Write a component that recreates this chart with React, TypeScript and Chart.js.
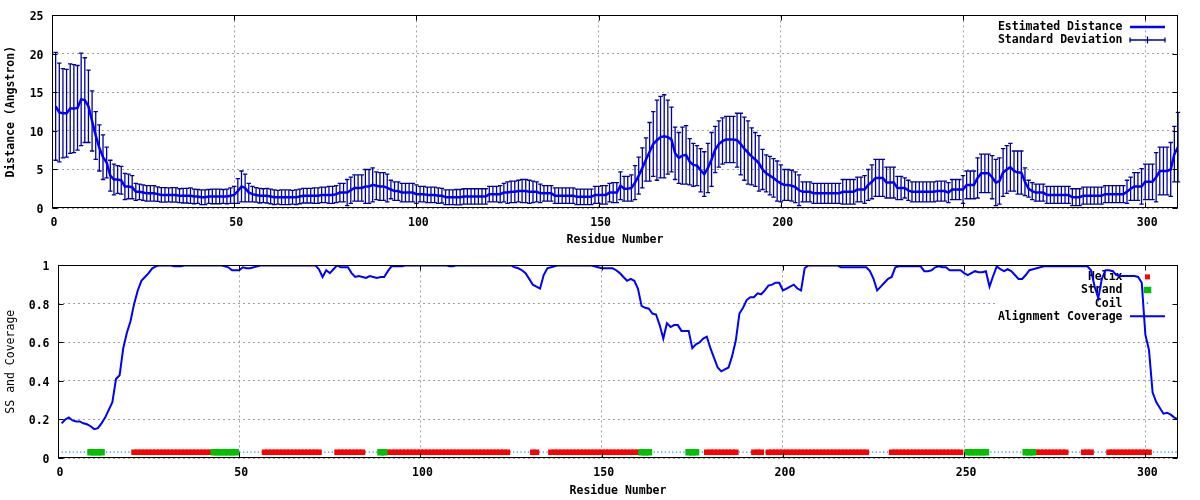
import { useEffect, useRef } from 'react';
import { Chart, registerables } from 'chart.js';

Chart.register(...registerables);

// ---------------- DATA ----------------
const residues: number[] = Array.from({ length: 309 }, (_, i) => i + 1);

const distance: number[] = [
  13.2, 12.4, 12.3, 12.3, 12.9, 12.9, 13.0, 14.1, 14.0, 13.2,
  11.3, 9.4, 7.8, 6.6, 5.9, 4.2, 3.7, 3.7, 3.6, 2.8,
  2.8, 2.7, 2.1, 2.1, 2.0, 1.9, 1.9, 1.9, 1.8, 1.7,
  1.7, 1.7, 1.7, 1.7, 1.6, 1.6, 1.6, 1.6, 1.5, 1.5,
  1.4, 1.4, 1.5, 1.5, 1.5, 1.5, 1.5, 1.5, 1.6, 1.7,
  2.2, 2.8, 2.6, 2.0, 1.8, 1.7, 1.6, 1.6, 1.6, 1.5,
  1.4, 1.4, 1.4, 1.4, 1.4, 1.4, 1.4, 1.5, 1.6, 1.6,
  1.6, 1.6, 1.6, 1.7, 1.7, 1.7, 1.7, 1.8, 2.0, 2.0,
  2.0, 2.3, 2.6, 2.6, 2.6, 2.8, 2.8, 3.0, 2.9, 2.8,
  2.8, 2.6, 2.4, 2.2, 2.2, 2.0, 2.0, 2.0, 2.0, 1.8,
  1.8, 1.8, 1.7, 1.7, 1.7, 1.6, 1.6, 1.4, 1.4, 1.4,
  1.4, 1.4, 1.5, 1.5, 1.5, 1.5, 1.5, 1.5, 1.5, 1.8,
  1.8, 1.8, 1.8, 2.0, 2.0, 2.1, 2.1, 2.2, 2.2, 2.2,
  2.1, 2.1, 2.1, 1.9, 1.9, 1.9, 1.9, 1.6, 1.6, 1.6,
  1.6, 1.6, 1.6, 1.45, 1.45, 1.45, 1.45, 1.45, 1.7, 1.7,
  1.7, 1.7, 2.0, 2.0, 2.0, 2.9, 2.5, 2.5, 2.6, 3.3,
  4.2, 5.2, 6.3, 7.3, 8.3, 8.8, 9.2, 9.3, 9.2, 8.9,
  7.1, 6.5, 6.8, 6.9, 6.0, 5.6, 5.5, 4.9, 4.4, 5.2,
  6.3, 7.6, 8.3, 8.7, 8.9, 8.9, 8.9, 8.8, 8.3, 7.7,
  7.2, 6.7, 6.3, 5.8, 5.0, 4.5, 4.2, 3.9, 3.5, 3.2,
  3.0, 3.0, 2.9, 2.7, 2.3, 2.1, 2.1, 2.1, 1.9, 1.9,
  1.9, 1.9, 1.9, 1.9, 1.9, 1.9, 2.1, 2.1, 2.1, 2.1,
  2.4, 2.4, 2.4, 3.0, 3.4, 3.9, 3.9, 3.9, 3.3, 3.3,
  3.3, 2.6, 2.6, 2.6, 2.3, 2.1, 2.1, 2.1, 2.1, 2.1,
  2.1, 2.1, 2.2, 2.2, 2.2, 2.0, 2.4, 2.4, 2.4, 2.4,
  3.0, 3.0, 3.0, 3.9, 4.5, 4.5, 4.5, 4.0, 3.3, 3.5,
  4.6, 5.0, 5.3, 4.8, 4.6, 4.6, 3.4, 2.5, 2.2, 2.0,
  2.0, 2.0, 1.7, 1.7, 1.7, 1.7, 1.7, 1.7, 1.7, 1.4,
  1.4, 1.4, 1.6, 1.6, 1.6, 1.6, 1.6, 1.6, 1.8, 1.8,
  1.8, 1.8, 1.8, 1.8, 2.1, 2.5, 2.8, 2.8, 2.8, 3.4,
  3.4, 3.4, 4.0, 4.8, 4.8, 4.8, 5.0, 7.0, 7.9,
];

const stdDev: number[] = [
  7.0, 6.4, 5.8, 5.7, 5.8, 5.7, 5.5, 6.0, 5.5, 4.7,
  3.9, 3.1, 3.0, 2.9, 2.0, 2.0, 2.0, 1.8, 1.8, 1.7,
  1.6, 1.5, 1.1, 1.0, 1.0, 1.0, 1.0, 1.0, 0.95, 0.95,
  0.95, 0.9, 0.95, 0.95, 0.9, 0.95, 0.95, 1.0, 0.95, 0.9,
  0.95, 0.95, 0.9, 0.95, 0.95, 0.95, 0.9, 0.95, 1.0, 1.1,
  1.6, 2.0, 1.8, 1.2, 1.0, 0.95, 0.95, 0.9, 0.95, 0.95,
  0.95, 0.9, 0.95, 0.95, 0.95, 0.9, 0.95, 0.95, 0.95, 0.95,
  0.95, 1.0, 1.0, 1.0, 1.0, 1.1, 1.1, 1.1, 1.2, 1.2,
  1.7, 1.7, 1.7, 1.7, 1.7, 2.2, 2.2, 2.2, 1.8, 1.8,
  1.8, 1.8, 1.2, 1.2, 1.2, 1.2, 1.2, 1.2, 1.2, 1.2,
  1.0, 1.0, 1.0, 1.0, 1.0, 1.0, 0.95, 0.95, 0.95, 0.95,
  1.0, 1.0, 1.0, 1.0, 1.0, 1.0, 1.0, 1.0, 1.0, 1.0,
  1.0, 1.0, 1.1, 1.2, 1.4, 1.4, 1.4, 1.4, 1.5, 1.5,
  1.5, 1.4, 1.3, 1.2, 1.0, 1.0, 1.0, 1.0, 1.0, 1.0,
  1.0, 1.0, 1.0, 1.0, 1.0, 1.0, 1.0, 1.0, 1.1, 1.1,
  1.2, 1.2, 1.2, 1.3, 1.3, 1.8, 1.6, 1.6, 1.7, 2.2,
  2.4, 2.6, 2.8, 3.8, 4.2, 5.2, 5.3, 5.4, 4.8, 4.2,
  3.4, 3.3, 3.7, 3.8, 3.0, 2.8, 2.6, 2.8, 2.9, 3.2,
  3.5, 3.0, 3.0, 3.0, 3.0, 3.0, 3.0, 3.5, 4.0, 4.1,
  4.1, 3.7, 3.5, 3.6, 2.6, 2.4, 2.5, 2.5, 2.6, 2.4,
  2.0, 2.0, 2.0, 2.0, 2.0, 1.3, 1.3, 1.3, 1.3, 1.3,
  1.3, 1.3, 1.3, 1.3, 1.3, 1.3, 1.6, 1.6, 1.6, 1.6,
  1.6, 1.6, 1.8, 2.0, 2.2, 2.4, 2.4, 2.4, 2.0, 2.0,
  2.0, 1.5, 1.5, 1.3, 1.3, 1.3, 1.3, 1.3, 1.3, 1.3,
  1.3, 1.3, 1.3, 1.3, 1.3, 1.3, 1.3, 1.3, 1.3, 1.8,
  1.8, 1.8, 1.8, 2.6, 2.5, 2.5, 2.5, 2.8, 3.0, 3.0,
  3.1, 3.1, 3.1, 2.6, 2.8, 2.8, 1.8, 1.1, 1.1, 1.1,
  1.1, 1.1, 1.1, 1.1, 1.1, 1.1, 1.1, 1.1, 1.1, 1.1,
  1.1, 1.1, 1.1, 1.1, 1.1, 1.1, 1.1, 1.1, 1.1, 1.1,
  1.1, 1.1, 1.1, 1.1, 1.5, 1.5, 1.8, 1.8, 2.3, 2.3,
  2.3, 2.3, 3.2, 3.1, 3.1, 3.1, 3.5, 3.6, 4.5,
];

const coverage: number[] = [
  0.18, 0.2, 0.21, 0.195, 0.19, 0.19, 0.18, 0.175, 0.165, 0.15,
  0.155, 0.18, 0.21, 0.25, 0.29, 0.41, 0.43, 0.57, 0.65, 0.71,
  0.8, 0.87, 0.92, 0.94, 0.96, 0.985, 0.995, 1, 1, 1,
  1, 0.995, 0.995, 0.995, 1, 1, 1, 1, 1, 1,
  1, 1, 1, 1, 1, 0.995, 0.99, 0.975, 0.975, 0.975,
  0.99, 0.985, 0.985, 0.99, 0.995, 1, 1, 1, 1, 1,
  1, 1, 1, 1, 1, 1, 1, 1, 1, 1,
  1, 0.98, 0.94, 0.975, 0.96, 0.98, 1, 0.99, 0.99, 0.99,
  0.96, 0.94, 0.945, 0.94, 0.935, 0.945, 0.94, 0.935, 0.94, 0.94,
  0.97, 0.995, 0.995, 0.995, 0.995, 1, 1, 1, 1, 1,
  1, 1, 1, 1, 1, 1, 1, 0.995, 0.995, 1,
  1, 1, 1, 1, 1, 1, 1, 1, 1, 1,
  1, 1, 1, 1, 1, 0.99, 0.985, 0.975, 0.96, 0.93,
  0.9, 0.89, 0.88, 0.95, 0.985, 0.99, 0.995, 1, 1, 1,
  1, 1, 1, 1, 1, 1, 1, 0.995, 0.99, 0.985,
  0.985, 0.985, 0.985, 0.975, 0.96, 0.94, 0.92, 0.93, 0.92, 0.88,
  0.79, 0.78, 0.775, 0.75, 0.745, 0.69, 0.62, 0.7, 0.68, 0.69,
  0.69, 0.66, 0.66, 0.66, 0.57, 0.59, 0.6, 0.62, 0.63, 0.57,
  0.52, 0.47, 0.45, 0.46, 0.47, 0.53, 0.61, 0.75, 0.78, 0.82,
  0.835, 0.835, 0.855, 0.85, 0.87, 0.895, 0.9, 0.91, 0.91, 0.87,
  0.88, 0.89, 0.9, 0.88, 0.87, 0.985, 1, 1, 1, 1,
  1, 1, 1, 1, 1, 0.99, 0.99, 0.99, 0.99, 0.99,
  0.99, 0.99, 0.99, 0.97, 0.93, 0.87, 0.89, 0.91, 0.93, 0.94,
  0.99, 0.995, 0.995, 0.995, 0.995, 0.995, 0.995, 0.995, 0.97, 0.97,
  0.975, 0.99, 0.995, 0.99, 0.99, 0.975, 0.975, 0.975, 0.975, 0.96,
  0.95, 0.96, 0.97, 0.965, 0.965, 0.97, 0.89, 0.945, 0.995, 0.98,
  0.97, 0.98, 0.97, 0.95, 0.93, 0.93, 0.95, 0.975, 0.98, 0.985,
  0.99, 0.995, 0.995, 0.995, 0.995, 0.995, 0.995, 0.995, 0.995, 0.995,
  0.995, 0.995, 0.995, 0.995, 0.975, 0.89, 0.83, 0.93, 0.975, 0.975,
  0.97, 0.95, 0.945, 0.945, 0.945, 0.945, 0.945, 0.94, 0.91, 0.64,
  0.56, 0.34, 0.29, 0.26, 0.23, 0.235, 0.225, 0.21, 0.2,
];

// secondary structure segments [first residue, last residue]
const helixSegments: [number, number][] = [
  [21, 42], [57, 72], [77, 84], [91, 124], [131, 132], [136, 160], [179, 187],
  [192, 194], [196, 223], [230, 249], [270, 278], [283, 285], [290, 301],
];
const strandSegments: [number, number][] = [
  [9, 12], [43, 49], [89, 90], [161, 163], [174, 176], [251, 256], [267, 269],
];
const ssLevel = 0.03;

const residueTicks: number[] = [0, 50, 100, 150, 200, 250, 300];
const distanceTicks: number[] = [0, 5, 10, 15, 20, 25];
const coverageTicks: number[] = [0, 0.2, 0.4, 0.6, 0.8, 1];
const coverageTickLabels: string[] = ['0', '0.2', '0.4', '0.6', '0.8', '1'];

// ---------------- STYLE ----------------
const MONO = '"DejaVu Sans Mono", "Liberation Mono", monospace';
const FONT_SIZE = 11.5;
const boldFont = { family: MONO, size: FONT_SIZE, weight: 'bold' as const };
const plainFont = { family: MONO, size: FONT_SIZE, weight: 'normal' as const };
const GRID = '#a0a0a0';
const BLUE = '#0000ff';
const ERR = '#00009c';
const RED = '#ff0000';
const GREEN = '#00c000';
const COIL = '#2090ff';

const inSegments = (r: number, segs: [number, number][]) => segs.some(([a, b]) => r >= a && r <= b);

function xScale(titlePadBottom: number) {
  return {
    type: 'linear' as const,
    min: 0,
    max: 309,
    afterBuildTicks: (s: any) => { s.ticks = residueTicks.map((v) => ({ value: v })); },
    afterFit: (s: any) => { s.height = 42; },
    grid: { color: GRID, lineWidth: 1, drawTicks: false },
    border: { display: false, dash: [2, 3] },
    ticks: { font: boldFont, color: '#000', padding: 8, labelOffset: 2, maxRotation: 0, autoSkip: false },
    title: { display: true, text: 'Residue Number', font: boldFont, color: '#000', padding: { top: 0, bottom: titlePadBottom } },
  };
}

function yScale(min: number, max: number, ticks: number[], labels: string[], width: number, title: string, titleFont: any) {
  return {
    type: 'linear' as const,
    min,
    max,
    afterBuildTicks: (s: any) => { s.ticks = ticks.map((v) => ({ value: v })); },
    afterFit: (s: any) => { s.width = width; },
    grid: { color: GRID, lineWidth: 1, drawTicks: false },
    border: { display: false, dash: [2, 3] },
    ticks: {
      font: boldFont,
      color: '#000',
      padding: 8.5,
      labelOffset: 2,
      autoSkip: false,
      callback: (_v: any, i: number) => labels[i],
    },
    title: { display: true, text: title, font: titleFont, color: '#000', padding: { top: 4, bottom: 0 } },
  };
}

const framePlugin = {
  id: 'gnuplotFrame',
  afterDraw(chart: any) {
    const { ctx, chartArea: a, scales } = chart;
    const l = Math.round(a.left) + 0.5;
    const r = Math.round(a.right) - 0.5;
    const t = Math.round(a.top) + 0.5;
    const b = Math.round(a.bottom) - 0.5;
    ctx.save();
    ctx.strokeStyle = '#000';
    ctx.lineWidth = 1;
    ctx.strokeRect(l, t, r - l, b - t);
    ctx.beginPath();
    for (const tk of scales.x.ticks) {
      const x = Math.round(scales.x.getPixelForValue(tk.value)) + 0.5;
      ctx.moveTo(x, b); ctx.lineTo(x, b - 5);
      ctx.moveTo(x, t); ctx.lineTo(x, t + 5);
    }
    for (const tk of scales.y.ticks) {
      const y = Math.round(scales.y.getPixelForValue(tk.value)) + 0.5;
      ctx.moveTo(l, y); ctx.lineTo(l + 5, y);
      ctx.moveTo(r, y); ctx.lineTo(r - 5, y);
    }
    ctx.stroke();
    ctx.restore();
  },
};

type KeyItem = { label: string; sample: (ctx: CanvasRenderingContext2D, x0: number, x1: number, y: number) => void };

function keyPlugin(items: KeyItem[], opaque: boolean) {
  return {
    id: 'gnuplotKey',
    beforeDatasetsDraw(chart: any) {
      const { ctx, chartArea: a } = chart;
      const textRight = a.right - 55.5;
      const x0 = a.right - 48;
      const x1 = a.right - 13;
      const y0 = a.top + 11.5;
      const dy = 13.1;
      ctx.save();
      ctx.font = `bold ${FONT_SIZE}px ${MONO}`;
      if (opaque) {
        let w = 0;
        items.forEach((it) => { w = Math.max(w, ctx.measureText(it.label).width); });
        const left = textRight - w;
        ctx.fillStyle = '#fff';
        ctx.fillRect(left, a.top + 1, a.right - 1 - left, items.length * dy + 6);
      }
      ctx.textAlign = 'right';
      ctx.textBaseline = 'middle';
      items.forEach((it, i) => {
        const y = y0 + i * dy;
        ctx.fillStyle = '#000';
        ctx.fillText(it.label, textRight, y + 0.5);
        it.sample(ctx, x0, x1, y);
      });
      ctx.restore();
    },
  };
}

const errorBarPlugin = {
  id: 'stdDevBars',
  beforeDatasetsDraw(chart: any) {
    const { ctx, scales: { x, y } } = chart;
    ctx.save();
    ctx.strokeStyle = ERR;
    ctx.lineWidth = 1.3;
    ctx.beginPath();
    residues.forEach((r, i) => {
      const px = x.getPixelForValue(r);
      const hi = y.getPixelForValue(distance[i] + stdDev[i]);
      const lo = y.getPixelForValue(Math.max(0, distance[i] - stdDev[i]));
      ctx.moveTo(px, hi); ctx.lineTo(px, lo);
      ctx.moveTo(px - 2.2, hi); ctx.lineTo(px + 2.2, hi);
      ctx.moveTo(px - 2.2, lo); ctx.lineTo(px + 2.2, lo);
    });
    ctx.stroke();
    ctx.restore();
  },
};

const baseOptions = {
  responsive: false,
  animation: false as const,
  devicePixelRatio: 1,
  events: [] as any[],
  plugins: { legend: { display: false }, tooltip: { enabled: false } },
};

export default function App() {
  const topRef = useRef<HTMLCanvasElement | null>(null);
  const bottomRef = useRef<HTMLCanvasElement | null>(null);

  useEffect(() => {
    if (!topRef.current || !bottomRef.current) return;

    const topKey = keyPlugin([
      {
        label: 'Estimated Distance',
        sample: (ctx, x0, x1, y) => {
          ctx.strokeStyle = BLUE; ctx.lineWidth = 2.5;
          ctx.beginPath(); ctx.moveTo(x0, y); ctx.lineTo(x1, y); ctx.stroke();
        },
      },
      {
        label: 'Standard Deviation',
        sample: (ctx, x0, x1, y) => {
          const xm = (x0 + x1) / 2;
          ctx.strokeStyle = ERR; ctx.lineWidth = 1.3;
          ctx.beginPath();
          ctx.moveTo(x0, y); ctx.lineTo(x1, y);
          ctx.moveTo(x0, y - 2.5); ctx.lineTo(x0, y + 2.5);
          ctx.moveTo(x1, y - 2.5); ctx.lineTo(x1, y + 2.5);
          ctx.moveTo(xm, y - 3.5); ctx.lineTo(xm, y + 3.5);
          ctx.stroke();
        },
      },
    ], false);

    const top = new Chart(topRef.current, {
      type: 'line',
      data: {
        datasets: [
          {
            label: 'Estimated Distance',
            data: residues.map((r, i) => ({ x: r, y: distance[i] })),
            borderColor: BLUE,
            borderWidth: 2.5,
            pointRadius: 0,
            tension: 0,
            fill: false,
          },
        ],
      },
      options: {
        ...baseOptions,
        layout: { padding: { top: 14, right: 22, left: 0, bottom: 0 } },
        scales: {
          x: xScale(3),
          y: yScale(0, 25, distanceTicks, distanceTicks.map(String), 52, 'Distance (Angstron)', boldFont),
        },
      } as any,
      plugins: [errorBarPlugin, topKey, framePlugin],
    });

    const bottomKey = keyPlugin([
      {
        label: 'Helix',
        sample: (ctx, x0, x1, y) => {
          const xm = (x0 + x1) / 2;
          ctx.fillStyle = RED; ctx.fillRect(xm - 2.5, y - 2.5, 5, 5);
        },
      },
      {
        label: 'Strand',
        sample: (ctx, x0, x1, y) => {
          const xm = (x0 + x1) / 2;
          ctx.fillStyle = GREEN; ctx.fillRect(xm - 3.8, y - 3.2, 7.6, 6.4);
        },
      },
      {
        label: 'Coil',
        sample: (ctx, x0, x1, y) => {
          const xm = (x0 + x1) / 2;
          ctx.fillStyle = COIL; ctx.fillRect(xm - 0.75, y - 0.75, 1.5, 1.5);
        },
      },
      {
        label: 'Alignment Coverage',
        sample: (ctx, x0, x1, y) => {
          ctx.strokeStyle = BLUE; ctx.lineWidth = 2;
          ctx.beginPath(); ctx.moveTo(x0, y); ctx.lineTo(x1, y); ctx.stroke();
        },
      },
    ], true);

    const bottom = new Chart(bottomRef.current, {
      type: 'line',
      data: {
        datasets: [
          {
            label: 'Alignment Coverage',
            data: residues.map((r, i) => ({ x: r, y: coverage[i] })),
            borderColor: BLUE,
            borderWidth: 2,
            pointRadius: 0,
            tension: 0,
            fill: false,
          },
          {
            label: 'Strand',
            data: residues.filter((r) => inSegments(r, strandSegments)).map((r) => ({ x: r, y: ssLevel })),
            showLine: false,
            pointStyle: 'rect',
            pointRadius: 4.7,
            pointBackgroundColor: GREEN,
            pointBorderWidth: 0,
            borderColor: GREEN,
          },
          {
            label: 'Helix',
            data: residues.filter((r) => inSegments(r, helixSegments)).map((r) => ({ x: r, y: ssLevel })),
            showLine: false,
            pointStyle: 'rect',
            pointRadius: 4,
            pointBackgroundColor: RED,
            pointBorderWidth: 0,
            borderColor: RED,
          },
          {
            label: 'Coil',
            data: residues.map((r) => ({
              x: r,
              y: inSegments(r, helixSegments) || inSegments(r, strandSegments) ? null : ssLevel,
            })),
            spanGaps: true,
            borderColor: COIL,
            borderWidth: 1.3,
            borderDash: [1.3, 2.4],
            pointRadius: 0,
            fill: false,
          },
        ],
      },
      options: {
        ...baseOptions,
        layout: { padding: { top: 13, right: 22, left: 0, bottom: 0 } },
        scales: {
          x: xScale(2),
          y: yScale(0, 1, coverageTicks, coverageTickLabels, 58, 'SS and Coverage', plainFont),
        },
      } as any,
      plugins: [bottomKey, framePlugin],
    });

    return () => {
      top.destroy();
      bottom.destroy();
    };
  }, []);

  return (
    <div style={{ position: 'absolute', left: 0, top: 0, width: 1200, height: 500, background: '#fff' }}>
      <canvas ref={topRef} width={1200} height={250} style={{ display: 'block' }} />
      <canvas ref={bottomRef} width={1200} height={250} style={{ display: 'block' }} />
    </div>
  );
}
